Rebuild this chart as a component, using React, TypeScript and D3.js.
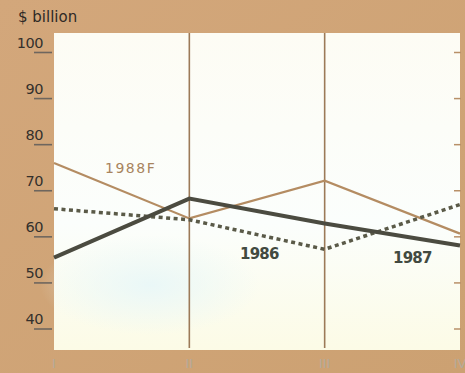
import React from "react";
import * as d3 from "d3";

const quarters = ["I", "II", "III", "IV"];
const s1988F = [76.0, 64.0, 72.2, 60.7];
const s1987 = [55.5, 68.3, 62.9, 58.1];
const s1986 = [66.1, 63.7, 57.3, 67.0];
const yTicks = [40, 50, 60, 70, 80, 90, 100];

const W = 465;
const H = 373;
const plot = { left: 54, right: 460, top: 33, bottom: 350 };

export default function App() {
  const x = d3.scalePoint<string>().domain(quarters).range([plot.left, plot.right]);
  const y = d3.scaleLinear().domain([40, 100]).range([329, 52.5]);
  const line = d3
    .line<number>()
    .x((_, i) => x(quarters[i]) as number)
    .y((d) => y(d));

  const font = "'DejaVu Sans', 'Noto Sans', sans-serif";

  return (
    <svg
      width={W}
      height={H}
      style={{ position: "absolute", left: 0, top: 0 }}
      fontFamily={font}
    >
      <defs>
        <linearGradient id="bg" x1="0" y1="0" x2="1" y2="1">
          <stop offset="0" stopColor="#d3a77b" />
          <stop offset="1" stopColor="#cca172" />
        </linearGradient>
        <linearGradient id="pl" x1="0" y1="0" x2="0" y2="1">
          <stop offset="0" stopColor="#fdfcf4" />
          <stop offset="0.6" stopColor="#fbfefc" />
          <stop offset="1" stopColor="#fcfbe6" />
        </linearGradient>
        <radialGradient id="blue" cx="0.5" cy="0.5" r="0.5">
          <stop offset="0" stopColor="#e8f7f8" stopOpacity={0.9} />
          <stop offset="1" stopColor="#e8f7f8" stopOpacity={0} />
        </radialGradient>
      </defs>
      <rect x={0} y={0} width={W} height={H} fill="url(#bg)" />
      <rect
        x={plot.left}
        y={plot.top}
        width={plot.right - plot.left}
        height={plot.bottom - plot.top}
        fill="url(#pl)"
      />
      <ellipse cx={150} cy={285} rx={110} ry={50} fill="url(#blue)" />

      {/* vertical quarter lines */}
      {quarters.slice(1, 3).map((q) => (
        <line
          key={q}
          x1={x(q)}
          x2={x(q)}
          y1={plot.top}
          y2={plot.bottom - 2}
          stroke="#9c7a58"
          strokeWidth={1.6}
        />
      ))}

      {/* right-side inward ticks */}
      {yTicks.map((t) => (
        <line
          key={"r" + t}
          x1={plot.right - 6}
          x2={plot.right + 1}
          y1={y(t)}
          y2={y(t)}
          stroke="#b89068"
          strokeWidth={1.5}
        />
      ))}

      {/* y labels and underline ticks */}
      {yTicks.map((t) => (
        <g key={t}>
          <text
            x={43}
            y={y(t) - 5}
            textAnchor="end"
            fontSize={14.5}
            fill="#34302c"
            letterSpacing={-0.5}
          >
            {t}
          </text>
          <line x1={34} x2={52} y1={y(t)} y2={y(t)} stroke="#6e665e" strokeWidth={1.6} />
        </g>
      ))}

      <text x={18} y={22} fontSize={15} fill="#2e2a26">
        $ billion
      </text>

      {/* series */}
      <path d={line(s1988F) as string} fill="none" stroke="#b48c62" strokeWidth={2.2} />
      <path
        d={line(s1986) as string}
        fill="none"
        stroke="#5a5a48"
        strokeWidth={3.5}
        strokeDasharray="4 3.5"
      />
      <path d={line(s1987) as string} fill="none" stroke="#4b4b40" strokeWidth={4} />

      <text x={105} y={173} fontSize={14} fill="#a8845e" letterSpacing={1.5}>
        1988F
      </text>
      <text x={240} y={259} fontSize={15} fontWeight="bold" fill="#424a40" letterSpacing={-0.8}>
        1986
      </text>
      <text x={393} y={263} fontSize={15} fontWeight="bold" fill="#424a40" letterSpacing={-0.8}>
        1987
      </text>

      {/* x labels */}
      {quarters.map((q) => (
        <text
          key={q}
          x={x(q)}
          y={368}
          textAnchor="middle"
          fontSize={13}
          fill="#b4aa9a"
        >
          {q}
        </text>
      ))}
    </svg>
  );
}
